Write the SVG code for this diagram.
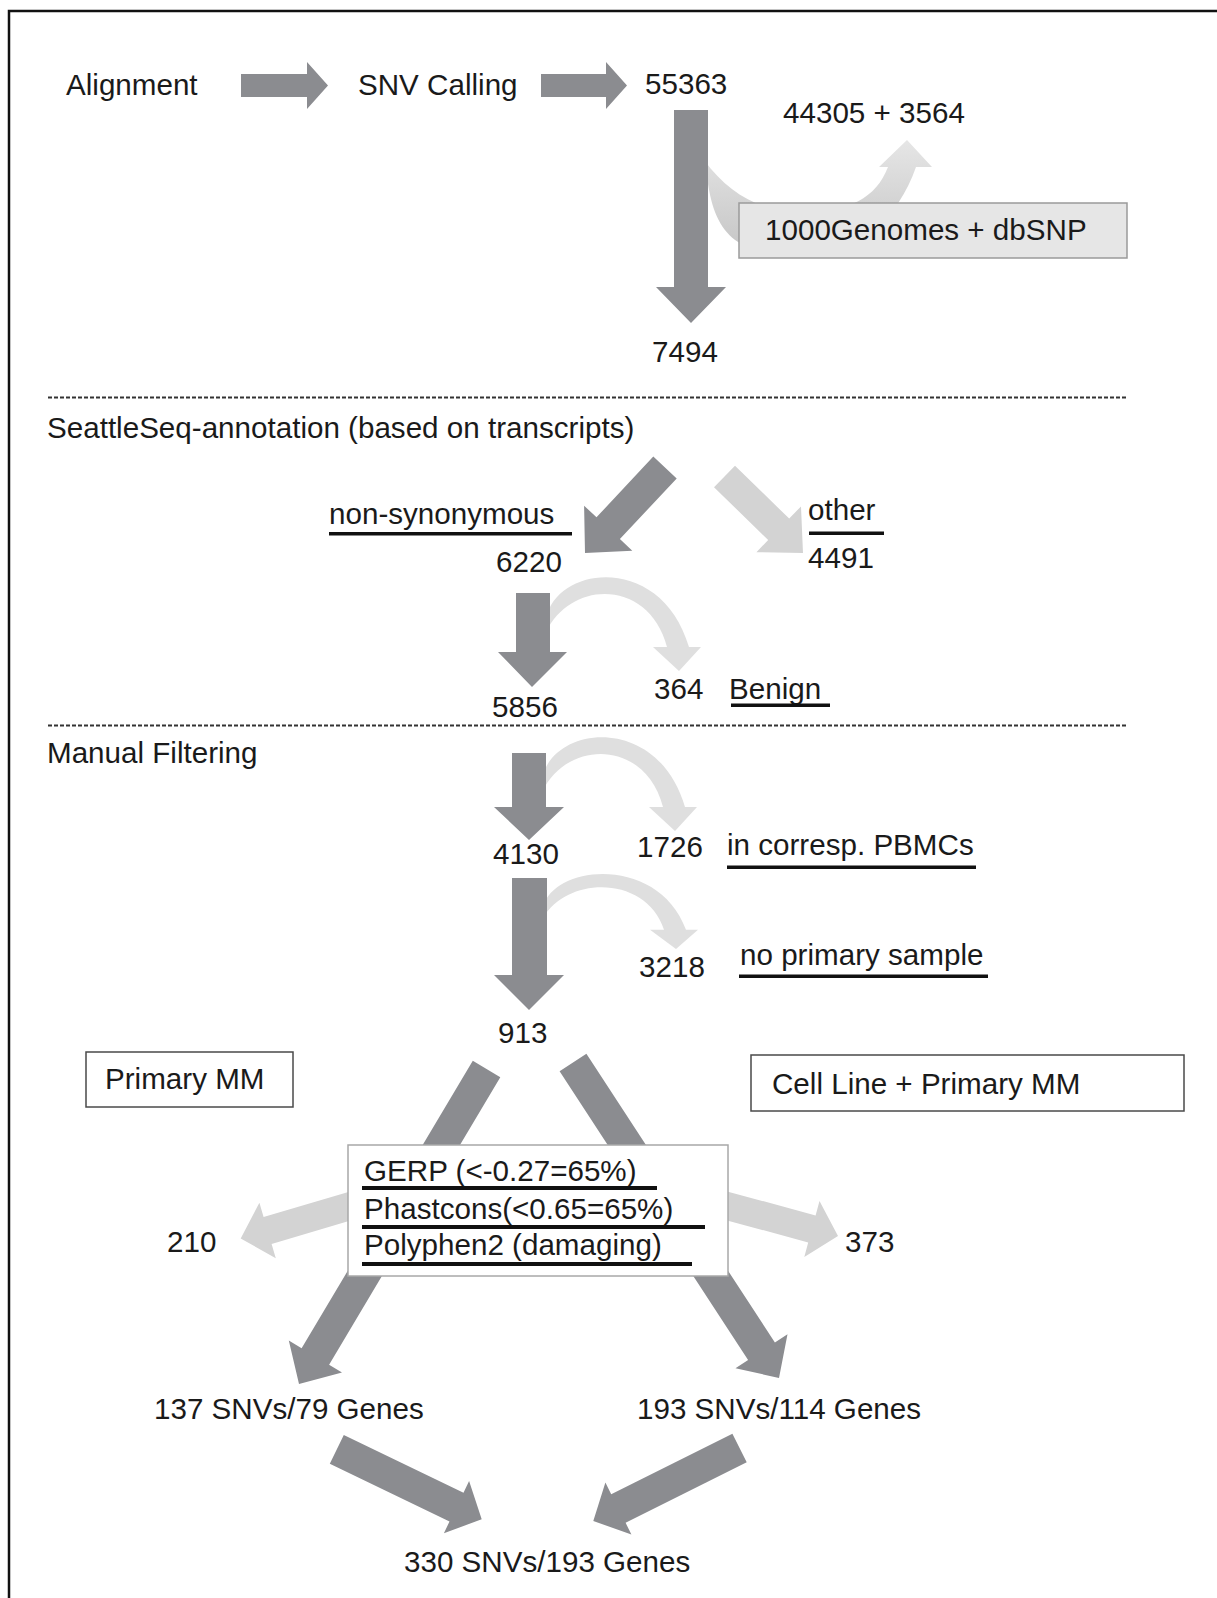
<svg xmlns="http://www.w3.org/2000/svg" width="1217" height="1598" viewBox="0 0 1217 1598">
  <style>
    .t { font-family: "Liberation Sans", Arial, Helvetica, sans-serif; font-size: 29.6px; fill: #1a1a1a; }
    .dark { fill: #8b8c90; }
    .light { fill: #d3d3d3; }
    .arc { fill: #dfdfdf; }
    .ul { fill: #111; }
    .dash { fill: none; stroke: #333; stroke-width: 1.8; stroke-dasharray: 4 2; }
    .box { fill: #fff; stroke: #4a4a4a; stroke-width: 1.5; }
    .box-db { fill: #e6e6e6; stroke: #9a9a9a; stroke-width: 1.5; }
    .box-filter { fill: #fff; stroke: #a8a8a8; stroke-width: 1.5; }
  </style>
  <defs>
    <linearGradient id="bandFill" x1="0" y1="139" x2="0" y2="250" gradientUnits="userSpaceOnUse">
      <stop offset="0" stop-color="#e6e6e6"/>
      <stop offset="1" stop-color="#c6c6c6"/>
    </linearGradient>
    <!-- curved side branch, drawn relative to the point where it leaves the main shaft;
         the band narrows towards the shaft -->
    <path id="sideArc" d="M-4 42 C8 -12 112 -22 139 71 L151 71 L129 95 L103 71 L117 71 C100 4 22 2 -4 56 Z"/>
  </defs>

  <rect width="1217" height="1598" fill="#fff"/>
  <!-- frame -->
  <path d="M9 1598 V11 H1217" fill="none" stroke="#111" stroke-width="2.5"/>

  <!-- section separators -->
  <line class="dash" x1="48" y1="397.5" x2="1126" y2="397.5"/>
  <line class="dash" x1="48" y1="725.5" x2="1128" y2="725.5"/>

  <g id="connectors">
    <!-- database filter branch (under the database box) -->
    <path fill="url(#bandFill)" d="M704 128 C706 225 722 255 800 255 C860 255 898 218 916 167 L932 167 L907 140 L879 167 L888 167 C876 198 850 212 800 212 C762 212 730 195 704 160 Z"/>

    <!-- curved branches off the vertical flow -->
    <use href="#sideArc" class="arc" transform="translate(550 576)"/>
    <use href="#sideArc" class="arc" transform="translate(546 736)"/>
    <use href="#sideArc" class="arc" transform="translate(547 873) scale(1 0.8)"/>

    <!-- top row -->
    <polygon class="dark" points="241,74 307,74 307,62 328,85.5 307,109 307,97 241,97"/>
    <polygon class="dark" points="541,74 606,74 606,62 627,85.5 606,109 606,97 541,97"/>
    <polygon class="dark" points="674,110 708,110 708,287 726,287 691,323 656,287 674,287"/>

    <!-- annotation split -->
    <polygon class="dark" points="653.3,456.6 596.5,517.3 584.1,505.7 585,553 632.3,550.7 619.9,539.1 676.7,478.4"/>
    <polygon class="light" points="735,465.8 789.2,518.6 801,506.4 803,553 756.4,552.2 768.2,540 714,487.2"/>

    <!-- vertical filtering steps -->
    <polygon class="dark" points="516,593 550,593 550,652 567,652 532,687 498,652 516,652"/>
    <polygon class="dark" points="512,753 546,753 546,807 564,807 529,840 494,807 512,807"/>
    <polygon class="dark" points="512,878 547,878 547,975 564,975 529,1010 494,975 512,975"/>

    <!-- split into the two sample groups -->
    <polygon class="dark" points="472.8,1060.8 301.6,1348.3 288.8,1340.6 299,1384 342,1372.4 329.1,1364.7 500.3,1077.2"/>
    <polygon class="dark" points="586.4,1053.8 774.9,1342.5 787.5,1334.3 779,1378 735.5,1368.2 748.1,1360 559.6,1071.3"/>

    <!-- removed by the scoring filters -->
    <polygon class="light" points="356,1189.8 263.6,1217.1 259.4,1202.7 240.7,1238.4 275.8,1258.3 271.6,1243.9 364,1216.6"/>
    <polygon class="light" points="719.7,1189.4 815.6,1215.4 819.5,1200.9 838,1236 804.3,1256.9 808.2,1242.4 712.3,1216.4"/>

    <!-- merge -->
    <polygon class="dark" points="343.8,1434.9 463.5,1492.7 469.1,1481 481.7,1519.3 443.9,1533.2 449.5,1521.5 329.8,1463.7"/>
    <polygon class="dark" points="732.4,1433.7 611.2,1494.2 605.4,1482.6 593.3,1521 631.4,1534.5 625.6,1522.8 746.7,1462.3"/>
  </g>

  <g id="n-alignment"><text class="t" x="66" y="95">Alignment</text></g>
  <g id="n-snv-calling"><text class="t" x="358" y="95">SNV Calling</text></g>
  <g id="n-55363"><text class="t" x="645" y="94">55363</text></g>
  <g id="n-known"><text class="t" x="783" y="123">44305 + 3564</text></g>
  <g id="n-databases">
    <rect class="box-db" x="739" y="203" width="388" height="55"/>
    <text class="t" x="765" y="240">1000Genomes + dbSNP</text>
  </g>
  <g id="n-7494"><text class="t" x="652" y="362">7494</text></g>

  <g id="n-seattleseq"><text class="t" x="47" y="438">SeattleSeq-annotation (based on transcripts)</text></g>
  <g id="n-nonsyn">
    <text class="t" x="329" y="524">non-synonymous</text>
    <rect class="ul" x="329" y="532" width="243" height="3.5"/>
  </g>
  <g id="n-6220"><text class="t" x="496" y="572">6220</text></g>
  <g id="n-other">
    <text class="t" x="808" y="520">other</text>
    <rect class="ul" x="809" y="531.5" width="75" height="3.5"/>
  </g>
  <g id="n-4491"><text class="t" x="808" y="568">4491</text></g>
  <g id="n-benign">
    <text class="t" x="654" y="699">364</text>
    <text class="t" x="729" y="699">Benign</text>
    <rect class="ul" x="731" y="703.5" width="99" height="3.5"/>
  </g>
  <g id="n-5856"><text class="t" x="492" y="717">5856</text></g>

  <g id="n-manual"><text class="t" x="47" y="763">Manual Filtering</text></g>
  <g id="n-4130"><text class="t" x="493" y="864">4130</text></g>
  <g id="n-pbmc">
    <text class="t" x="637" y="857">1726</text>
    <text class="t" x="727" y="855">in corresp. PBMCs</text>
    <rect class="ul" x="727" y="865.5" width="249" height="3.5"/>
  </g>
  <g id="n-noprimary">
    <text class="t" x="639" y="977">3218</text>
    <text class="t" x="740" y="965">no primary sample</text>
    <rect class="ul" x="739" y="974.5" width="249" height="3.5"/>
  </g>
  <g id="n-913"><text class="t" x="498" y="1043">913</text></g>

  <g id="n-primary-mm">
    <rect class="box" x="86" y="1052" width="207" height="55"/>
    <text class="t" x="105" y="1089">Primary MM</text>
  </g>
  <g id="n-cellline">
    <rect class="box" x="751" y="1055" width="433" height="56"/>
    <text class="t" x="772" y="1094">Cell Line + Primary MM</text>
  </g>

  <g id="n-filters">
    <rect class="box-filter" x="348" y="1145" width="380" height="131"/>
    <text class="t" x="364" y="1181">GERP (&lt;-0.27=65%)</text>
    <rect class="ul" x="362" y="1186" width="295" height="4"/>
    <text class="t" x="364" y="1219">Phastcons(&lt;0.65=65%)</text>
    <rect class="ul" x="362" y="1225" width="343" height="4"/>
    <text class="t" x="364" y="1255">Polyphen2 (damaging)</text>
    <rect class="ul" x="362" y="1262" width="330" height="4"/>
  </g>
  <g id="n-210"><text class="t" x="167" y="1252">210</text></g>
  <g id="n-373"><text class="t" x="845" y="1252">373</text></g>

  <g id="n-primary-result"><text class="t" x="154" y="1419">137 SNVs/79 Genes</text></g>
  <g id="n-cellline-result"><text class="t" x="637" y="1419">193 SNVs/114 Genes</text></g>
  <g id="n-total"><text class="t" x="404" y="1572">330 SNVs/193 Genes</text></g>
</svg>
